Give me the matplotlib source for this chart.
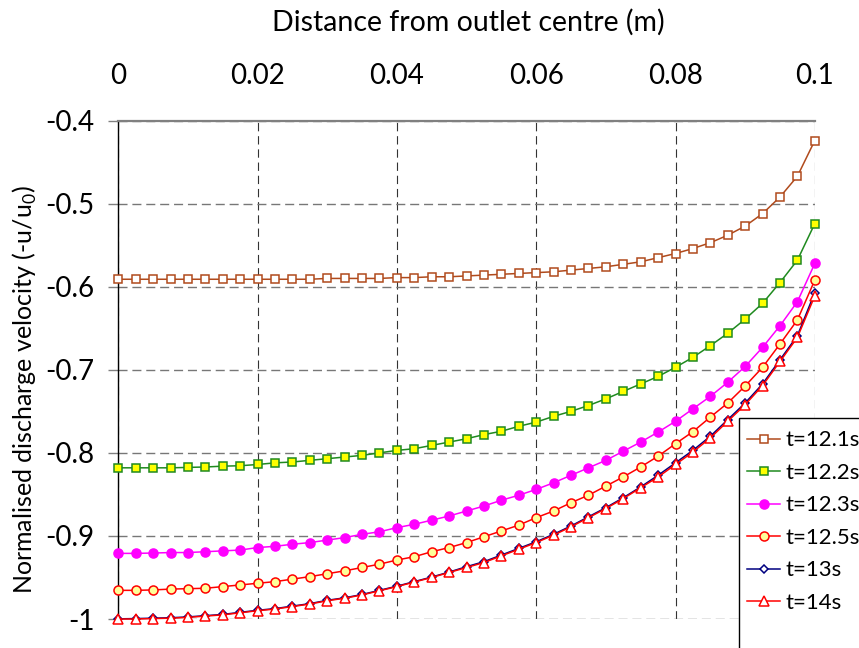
import matplotlib
matplotlib.use("Agg")
import matplotlib.pyplot as plt
from matplotlib.patches import Rectangle

plt.rcParams['font.family'] = ['Lato', 'DejaVu Sans']
plt.rcParams['mathtext.fontset'] = 'custom'
plt.rcParams['mathtext.rm'] = 'Lato'
plt.rcParams['lines.scale_dashes'] = False

# Radial distance from the outlet centre (m)
distance = [0.0, 0.0025, 0.005, 0.0075, 0.01, 0.0125, 0.015, 0.0175, 0.02, 0.0225,
            0.025, 0.0275, 0.03, 0.0325, 0.035, 0.0375, 0.04, 0.0425, 0.045, 0.0475,
            0.05, 0.0525, 0.055, 0.0575, 0.06, 0.0625, 0.065, 0.0675, 0.07, 0.0725,
            0.075, 0.0775, 0.08, 0.0825, 0.085, 0.0875, 0.09, 0.0925, 0.095, 0.0975, 0.1]

# Normalised discharge velocity (-u/u0) at each time
v_12_1 = [-0.591, -0.591, -0.591, -0.591, -0.591, -0.591, -0.591, -0.591, -0.591, -0.591,
          -0.591, -0.591, -0.590, -0.590, -0.590, -0.590, -0.589, -0.589, -0.588, -0.588,
          -0.587, -0.586, -0.585, -0.584, -0.583, -0.582, -0.580, -0.578, -0.576, -0.573,
          -0.570, -0.565, -0.560, -0.554, -0.547, -0.538, -0.527, -0.512, -0.492, -0.467, -0.424]
v_12_2 = [-0.818, -0.818, -0.818, -0.818, -0.8175, -0.817, -0.816, -0.8155, -0.814, -0.812,
          -0.811, -0.809, -0.807, -0.805, -0.803, -0.800, -0.797, -0.795, -0.791, -0.787,
          -0.783, -0.778, -0.774, -0.768, -0.763, -0.756, -0.750, -0.743, -0.735, -0.726,
          -0.717, -0.708, -0.697, -0.685, -0.671, -0.656, -0.639, -0.620, -0.595, -0.568, -0.524]
v_12_3 = [-0.921, -0.921, -0.9206, -0.920, -0.920, -0.919, -0.918, -0.917, -0.914, -0.9125,
          -0.910, -0.908, -0.905, -0.902, -0.898, -0.895, -0.890, -0.886, -0.881, -0.876,
          -0.870, -0.864, -0.857, -0.851, -0.844, -0.836, -0.827, -0.818, -0.809, -0.798,
          -0.787, -0.775, -0.762, -0.747, -0.732, -0.715, -0.696, -0.673, -0.647, -0.618, -0.572]
v_12_5 = [-0.9655, -0.9655, -0.965, -0.964, -0.9635, -0.963, -0.961, -0.959, -0.957, -0.955,
          -0.952, -0.949, -0.9455, -0.942, -0.938, -0.934, -0.929, -0.925, -0.919, -0.914,
          -0.908, -0.901, -0.894, -0.887, -0.878, -0.870, -0.860, -0.851, -0.840, -0.829,
          -0.817, -0.804, -0.789, -0.7745, -0.757, -0.740, -0.7195, -0.697, -0.669, -0.640, -0.592]
v_13 = [-0.9998, -0.9995, -0.999, -0.9985, -0.9975, -0.996, -0.9945, -0.992, -0.9895, -0.9875,
        -0.9845, -0.9815, -0.9775, -0.9745, -0.9705, -0.9655, -0.9605, -0.955, -0.9495, -0.9435,
        -0.937, -0.931, -0.923, -0.915, -0.907, -0.898, -0.888, -0.877, -0.866, -0.854,
        -0.841, -0.827, -0.812, -0.797, -0.780, -0.760, -0.740, -0.717, -0.688, -0.659, -0.607]
v_14 = [-1.000, -1.000, -0.9995, -0.999, -0.998, -0.9965, -0.995, -0.9925, -0.990, -0.988,
        -0.985, -0.982, -0.978, -0.975, -0.971, -0.966, -0.961, -0.9555, -0.950, -0.944,
        -0.938, -0.932, -0.924, -0.916, -0.908, -0.899, -0.889, -0.878, -0.867, -0.855,
        -0.842, -0.829, -0.814, -0.799, -0.782, -0.762, -0.742, -0.719, -0.690, -0.661, -0.611]

series_labels = ['t=12.1s', 't=12.2s', 't=12.3s', 't=12.5s', 't=13s', 't=14s']

x_ticks = [0, 0.02, 0.04, 0.06, 0.08, 0.1]
x_tick_labels = ['0', '0.02', '0.04', '0.06', '0.08', '0.1']
y_ticks = [-1.0, -0.9, -0.8, -0.7, -0.6, -0.5, -0.4]
y_tick_labels = ['-1', '-0.9', '-0.8', '-0.7', '-0.6', '-0.5', '-0.4']

W, H = 859, 648
fig = plt.figure(figsize=(W / 100, H / 100), dpi=100)
ax_l, ax_r, ax_t, ax_b = 118.3, 814.8, 120.6, 619.0
ax = fig.add_axes([ax_l / W, 1 - ax_b / H, (ax_r - ax_l) / W, (ax_b - ax_t) / H])
ax.set_xlim(0, 0.1)
ax.set_ylim(-1.0, -0.4)

styles = [
    dict(color='#B04A1C', marker='s', mfc='white', mec='#B04A1C', ms=6.2),
    dict(color='#1F8A1F', marker='s', mfc='#FFFF00', mec='#1F8A1F', ms=6.2),
    dict(color='#FF00FF', marker='o', mfc='#FF00FF', mec='#FF00FF', ms=6.5),
    dict(color='#FF0000', marker='o', mfc='#FFFF99', mec='#FF0000', ms=6.5),
    dict(color='#000080', marker='D', mfc='white', mec='#000080', ms=4.5),
    dict(color='#FF0000', marker='^', mfc='white', mec='#FF0000', ms=7),
]
for vals, lab, st in zip([v_12_1, v_12_2, v_12_3, v_12_5, v_13, v_14], series_labels, styles):
    ax.plot(distance, vals, label=lab, lw=1.1, mew=1.1, clip_on=False, zorder=3, **st)

# Distance axis on top, dashed grid
ax.xaxis.tick_top()
ax.set_xticks(x_ticks)
ax.set_xticklabels(x_tick_labels)
ax.set_yticks(y_ticks)
ax.set_yticklabels(y_tick_labels)
ax.tick_params(axis='x', length=0, pad=23, labelsize=20)
ax.tick_params(axis='y', length=7, width=1.0, color='#808080', pad=10, labelsize=20)

for s in ['bottom', 'right']:
    ax.spines[s].set_visible(False)
ax.spines['top'].set_color('#808080')
ax.spines['top'].set_linewidth(1.6)
ax.spines['left'].set_color('black')
ax.spines['left'].set_linewidth(1.0)

ax.set_axisbelow(True)
ax.grid(axis='x', color='#333333', lw=0.8, linestyle=(0, (6, 3.5)))
ax.grid(axis='y', color='#777777', lw=1.0, linestyle=(0, (6.5, 3.5)))

fig.text(468 / W, 1 - 22 / H, 'Distance from outlet centre (m)', ha='center', va='center', fontsize=20.5)
fig.text(25 / W, 1 - 390 / H, r'Normalised discharge velocity (-u/u$_\mathrm{0}$)',
         ha='center', va='center', rotation=90, fontsize=18)

# Legend box running off the right and bottom edges of the figure
box_x, box_y = 739.3, 418.3
ax.add_patch(Rectangle((box_x / W, 1 - 720 / H), (940 - box_x) / W, (720 - box_y) / H,
                       transform=fig.transFigure, facecolor='white', edgecolor='black',
                       lw=1.0, clip_on=False, zorder=4))
leg = ax.legend(loc='upper left', bbox_to_anchor=(747.3 / W, 1 - 430.5 / H),
                bbox_transform=fig.transFigure, borderaxespad=0, borderpad=0,
                fontsize=16, frameon=False, handlelength=1.47, handletextpad=0.25,
                labelspacing=0.56)
leg.set_zorder(5)

fig.savefig('out.png', dpi=100)
